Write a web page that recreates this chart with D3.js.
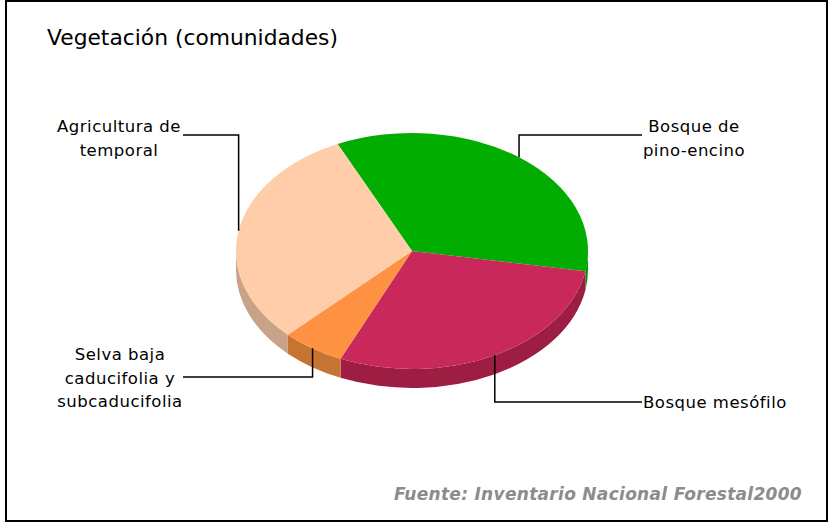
<!DOCTYPE html>
<html>
<head>
<meta charset="utf-8">
<script src="https://cdn.jsdelivr.net/npm/d3@7"></script>
<style>
  body { margin: 0; background: #fff; }
  svg text { font-family: "DejaVu Sans", Verdana, sans-serif; }
</style>
</head>
<body>
<script>
"use strict";
// chart data
const slices = ["Bosque de pino-encino", "Bosque mesófilo", "Selva baja caducifolia y subcaducifolia", "Agricultura de temporal"];
const values = [34.7, 28.9, 5.8, 30.6];
const labelLines = [["Bosque de", "pino-encino"], ["Bosque mesófilo"], ["Selva baja", "caducifolia y", "subcaducifolia"], ["Agricultura de", "temporal"]];
const topColors = ["#00ad00", "#c9285a", "#ff9242", "#ffcda9"];
const sideColors = ["#009400", "#9e1d43", "#c77433", "#c9a387"];

// where each label sits (elbow height, end of leader line, text position)
const labelLayout = [
    {elbowY: 135, lineEnd: 642, textX: 694, baseY: 132, anchor: "middle"},
    {elbowY: 402, lineEnd: 642, textX: 643, baseY: 408, anchor: "start"},
    {elbowY: 377, lineEnd: 183, textX: 120, baseY: 360, anchor: "middle"},
    {elbowY: 135, lineEnd: 183, textX: 119, baseY: 132, anchor: "middle"}
];

const measurements = {width: 830, height: 523, cx: 412, cy: 251, rx: 176, ry: 118, depth: 19};

const svg = d3.select("body").append("svg")
    .attr("width", measurements.width)
    .attr("height", measurements.height);

// frame
svg.append("rect")
    .attr("x", 6).attr("y", 1)
    .attr("width", 821).attr("height", 520)
    .attr("fill", "#fff")
    .attr("stroke", "#000")
    .attr("stroke-width", 2);

svg.append("text")
    .attr("x", 47).attr("y", 45)
    .style("font-size", "21.8px")
    .text("Vegetación (comunidades)");

const deg = Math.PI / 180;
const pie = d3.pie().sort(null)
    .startAngle(-25 * deg)
    .endAngle(335 * deg);
const arcs = pie(values);

//point on the ellipse for an angle measured clockwise from the top
function pt(a, dy) {
    return [measurements.cx + measurements.rx * Math.sin(a),
            measurements.cy - measurements.ry * Math.cos(a) + (dy || 0)];
}

function topPath(d) {
    const p0 = pt(d.startAngle), p1 = pt(d.endAngle);
    const large = d.endAngle - d.startAngle > Math.PI ? 1 : 0;
    return `M${measurements.cx},${measurements.cy}L${p0}A${measurements.rx},${measurements.ry} 0 ${large} 1 ${p1}Z`;
}

function sidePath(d) {
    const s0 = Math.max(d.startAngle, Math.PI / 2);
    const s1 = Math.min(d.endAngle, 3 * Math.PI / 2);
    if (s1 <= s0) return null;
    const r = `${measurements.rx},${measurements.ry} 0 0`;
    return `M${pt(s0)}A${r} 1 ${pt(s1)}L${pt(s1, measurements.depth)}A${r} 0 ${pt(s0, measurements.depth)}Z`;
}

const chart = svg.append("g");

chart.selectAll(".side")
    .data(arcs.filter(d => sidePath(d) !== null))
    .enter().append("path")
    .attr("class", "side")
    .attr("d", sidePath)
    .attr("fill", d => sideColors[d.index]);

chart.selectAll(".top")
    .data(arcs)
    .enter().append("path")
    .attr("class", "top")
    .attr("d", topPath)
    .attr("fill", d => topColors[d.index]);

// leader lines from the middle of each slice edge
chart.selectAll(".leader")
    .data(arcs)
    .enter().append("polyline")
    .attr("class", "leader")
    .attr("points", d => {
        const a = pt((d.startAngle + d.endAngle) / 2);
        const l = labelLayout[d.index];
        return [a, [a[0], l.elbowY], [l.lineEnd, l.elbowY]].join(" ");
    })
    .attr("fill", "none")
    .attr("stroke", "#000")
    .attr("stroke-width", 1.5);

const labels = svg.selectAll(".label")
    .data(arcs)
    .enter().append("text")
    .attr("class", "label")
    .attr("text-anchor", d => labelLayout[d.index].anchor)
    .style("font-size", "16.5px")
    .style("letter-spacing", "0.5px")
    .attr("fill", "#000");

labels.selectAll("tspan")
    .data(d => labelLines[d.index].map((t, i) => ({t: t, i: i, l: labelLayout[d.index]})))
    .enter().append("tspan")
    .attr("x", d => d.l.textX)
    .attr("y", d => d.l.baseY + d.i * 23.5)
    .text(d => d.t);

svg.append("text")
    .attr("x", 802).attr("y", 500)
    .attr("text-anchor", "end")
    .style("font-size", "17px")
    .style("letter-spacing", "0.3px")
    .style("font-weight", "bold")
    .style("font-style", "italic")
    .attr("fill", "#8c8c8c")
    .text("Fuente: Inventario Nacional Forestal2000");
</script>
</body>
</html>
